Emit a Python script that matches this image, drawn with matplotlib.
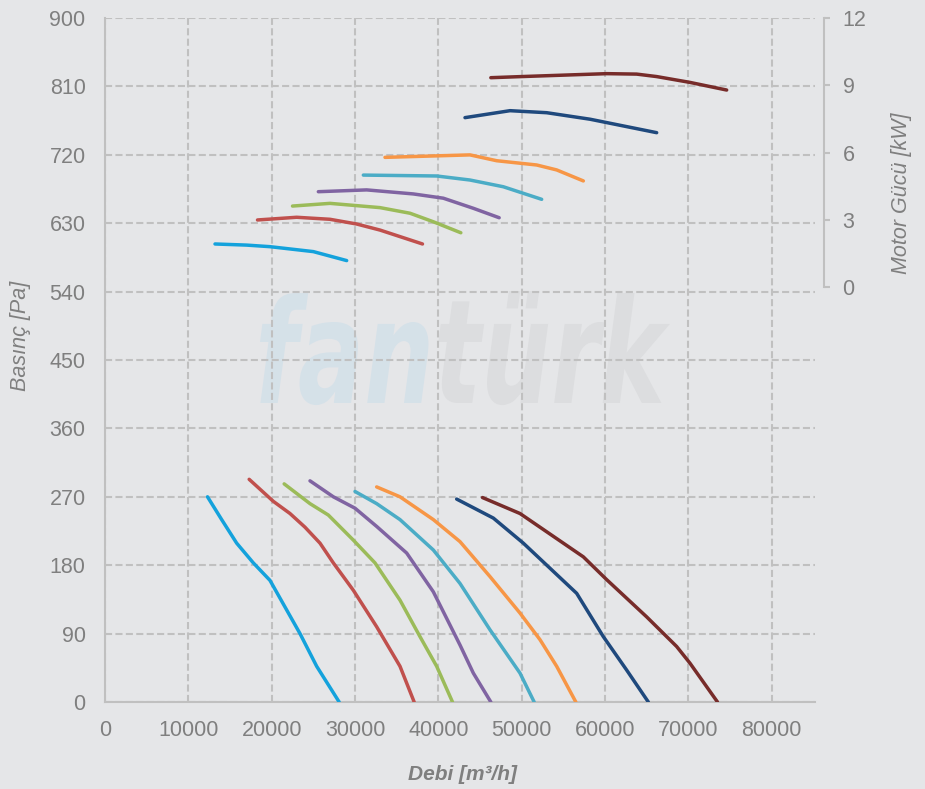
import matplotlib as mpl
mpl.use('Agg')
import matplotlib.pyplot as plt
from matplotlib.textpath import TextPath, text_to_path
from matplotlib.font_manager import FontProperties
from matplotlib.patches import PathPatch
from matplotlib.transforms import Affine2D

plt.rcParams['font.family'] = ['Liberation Sans', 'DejaVu Sans']

# fan curves: flow [m3/h] vs static pressure [Pa]
press_q = [
    [12300, 14000, 15800, 17800, 19800, 21600, 23400, 25400, 28100],
    [17300, 20200, 22200, 24000, 25800, 27400, 29800, 32600, 35400, 37100],
    [21500, 24600, 26800, 29800, 32400, 35400, 37800, 39800, 41700],
    [24600, 27400, 30000, 32600, 36200, 39400, 42600, 44200, 46300],
    [30000, 32600, 35400, 39400, 42600, 46200, 49800, 51500],
    [32600, 35400, 39400, 42600, 46200, 49800, 52200, 54200, 56500],
    [42200, 46600, 50200, 53400, 56600, 59800, 62600, 65200],
    [45300, 49800, 53800, 57400, 60200, 65000, 68600, 70200, 73500],
]
press_pa = [
    [270, 240, 209, 183, 160, 125, 90, 47, 0],
    [293, 264, 248, 230, 209, 183, 147, 99, 47, 0],
    [287, 261, 246, 213, 183, 134, 86, 47, 0],
    [291, 270, 255, 231, 196, 145, 75, 38, 0],
    [277, 261, 240, 200, 156, 95, 38, 0],
    [283, 270, 240, 211, 165, 117, 82, 47, 0],
    [267, 242, 209, 176, 143, 86, 42, 0],
    [269, 248, 218, 191, 161, 112, 73, 51, 0],
]
# motor power curves: flow [m3/h] vs power [kW]
power_q = [
    [13200, 17000, 19800, 25000, 29000],
    [18300, 23000, 27000, 30200, 33000, 38100],
    [22500, 27000, 33000, 36600, 39400, 42700],
    [25600, 31400, 37000, 40600, 44200, 47300],
    [31000, 39800, 43800, 47800, 52400],
    [33600, 43800, 47000, 51800, 54200, 57400],
    [43200, 48600, 53000, 58200, 62200, 66200],
    [46300, 50000, 60200, 63800, 66200, 70200, 74600],
]
power_kw = [
    [1.93, 1.88, 1.81, 1.59, 1.19],
    [3.00, 3.12, 3.03, 2.82, 2.55, 1.93],
    [3.62, 3.74, 3.55, 3.30, 2.92, 2.43],
    [4.26, 4.34, 4.16, 3.97, 3.52, 3.10],
    [5.00, 4.96, 4.78, 4.48, 3.92],
    [5.79, 5.90, 5.64, 5.45, 5.23, 4.74],
    [7.56, 7.87, 7.78, 7.49, 7.19, 6.89],
    [9.34, 9.39, 9.52, 9.50, 9.39, 9.13, 8.79],
]
colors = ['#14a2dc', '#c0504d', '#9bbb59', '#8064a2',
          '#4bacc6', '#f79646', '#1f497d', '#772c2a']

x_ticks = list(range(0, 80001, 10000))
y_ticks = list(range(0, 901, 90))
kw_ticks = [0, 3, 6, 9, 12]

bg = '#e5e6e8'
grey = '#7f7f7f'
gridc = '#c0c0c0'

fig = plt.figure(figsize=(9.25, 7.89), dpi=100, facecolor=bg)
ax = fig.add_axes([105/925, 1-702/789, 710/925, 684/789])
ax.set_facecolor(bg)
ax.set_axisbelow(True)

# watermark
fp = FontProperties(family='DejaVu Sans', weight='bold', style='italic', size=100)
w_fan = text_to_path.get_text_width_height_descent('fan', fp, ismath=False)[0]
p1 = TextPath((0, 0), 'fan', prop=fp, size=100)
p2 = TextPath((w_fan, 0), 'türk', prop=fp, size=100)
xh = TextPath((0, 0), 'n', prop=fp, size=100).get_extents().height
e1, e2 = p1.get_extents(), p2.get_extents()
x0 = min(e1.x0, e2.x0)
x1 = max(e1.x1, e2.x1)
sx = 410 / (x1 - x0)
sy = 81 / xh
tr = Affine2D().translate(-x0, 0).scale(sx, sy).translate(260, 789-403)
for p, c in [(p1, '#d5e1e8'), (p2, '#dcdddf')]:
    ax.add_patch(PathPatch(p, transform=tr, facecolor=c, edgecolor='none', zorder=0.2))

for q, pa, c in zip(press_q, press_pa, colors):
    ax.plot(q, pa, color=c, lw=2.5, solid_capstyle='round', solid_joinstyle='round', zorder=3)

ax.set_xlim(0, 85200)
ax.set_ylim(0, 900)
ax.set_xticks(x_ticks)
ax.set_yticks(y_ticks)
ax.grid(True, color=gridc, ls=(0, (3.4, 1.6)), lw=1.5)
for s in ['top', 'right']:
    ax.spines[s].set_visible(False)
for s in ['left', 'bottom']:
    ax.spines[s].set_color(gridc)
    ax.spines[s].set_linewidth(1.5)
ax.tick_params(axis='both', length=0, labelcolor=grey, labelsize=15.5)
ax.tick_params(axis='y', pad=14)
ax.tick_params(axis='x', pad=13)

ax2 = ax.twinx()
for q, kw, c in zip(power_q, power_kw, colors):
    ax2.plot(q, kw, color=c, lw=2.5, solid_capstyle='round', solid_joinstyle='round')
ax2.set_ylim(-18.48, 12)
ax2.set_yticks(kw_ticks)
for s in ['top', 'left', 'bottom']:
    ax2.spines[s].set_visible(False)
ax2.spines['right'].set_position(('outward', 6.5))
ax2.spines['right'].set_bounds(0, 12)
ax2.spines['right'].set_color(gridc)
ax2.spines['right'].set_linewidth(1.5)
ax2.tick_params(axis='y', direction='out', length=4.3, width=1.5, color=gridc,
                labelcolor=grey, labelsize=15.5, pad=9)

fig.text(462/925, 1-774/789, 'Debi [m³/h]', ha='center', va='center',
         fontsize=15, fontweight='bold', fontstyle='italic', color=grey)
fig.text(21/925, 1-336/789, 'Basınç [Pa]', ha='center', va='center', rotation=90,
         fontsize=15.5, fontstyle='italic', color=grey)
fig.text(901/925, 1-193/789, 'Motor Gücü [kW]', ha='center', va='center', rotation=90,
         fontsize=15.5, fontstyle='italic', color=grey)

fig.savefig('out.png', dpi=100, facecolor=bg)
